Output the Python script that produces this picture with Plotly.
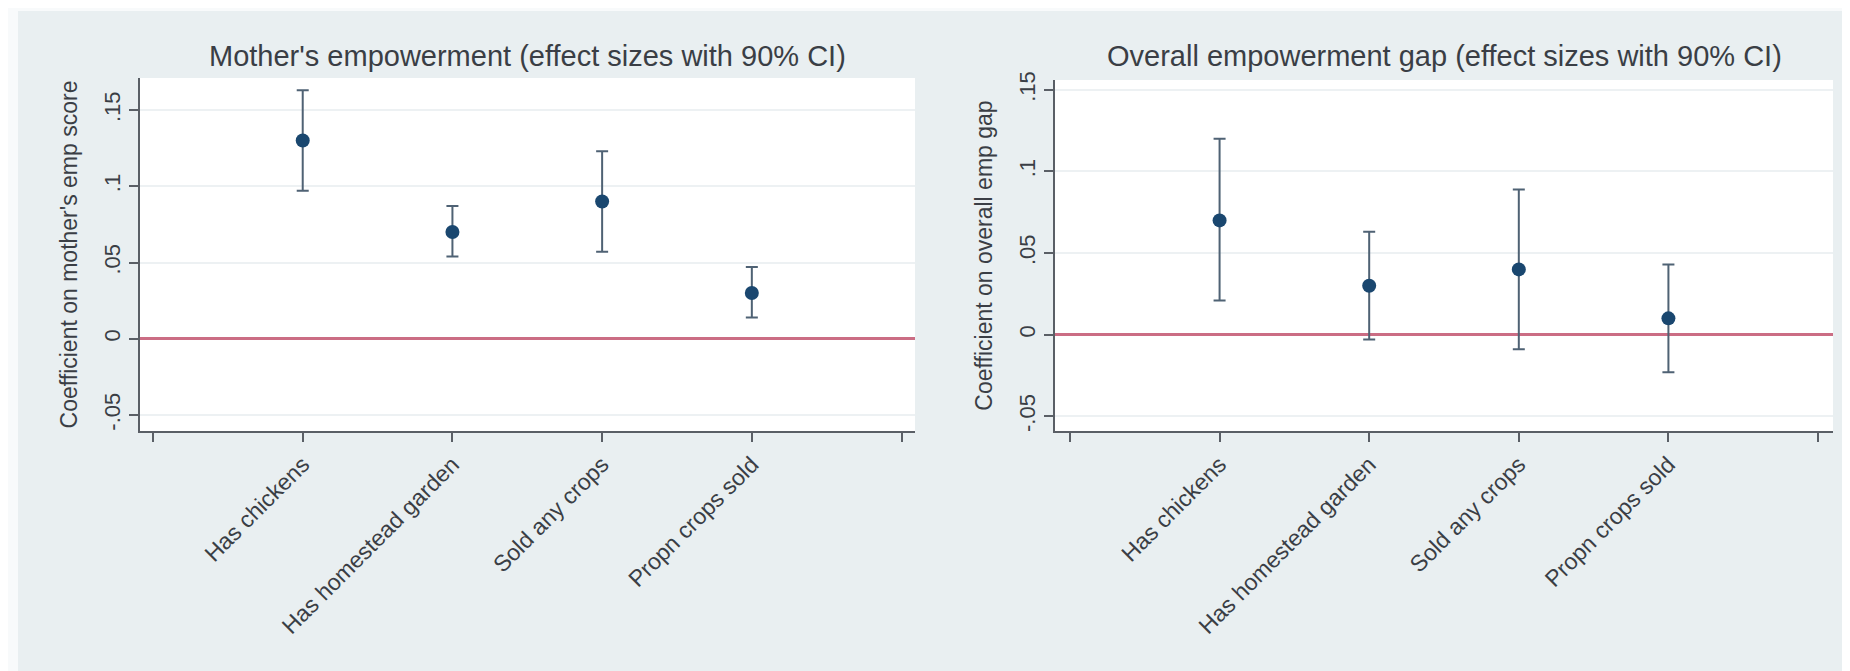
import plotly.graph_objects as go

categories = ["Has chickens", "Has homestead garden", "Sold any crops", "Propn crops sold"]
cat_pos = [1, 2, 3, 4]

# Left panel: mother's empowerment
mother_coef = [0.130, 0.070, 0.090, 0.030]
mother_lo = [0.097, 0.054, 0.057, 0.014]
mother_hi = [0.163, 0.087, 0.123, 0.047]

# Right panel: overall empowerment gap
gap_coef = [0.070, 0.030, 0.040, 0.010]
gap_lo = [0.021, -0.003, -0.009, -0.023]
gap_hi = [0.120, 0.063, 0.089, 0.043]

ytick_vals = [-0.05, 0, 0.05, 0.1, 0.15]
ytick_text = ["-.05", "0", ".05", ".1", ".15"]
xtick_vals = [0, 1, 2, 3, 4, 5]
xtick_text = [""] + categories + [""]

titles = ["Mother's empowerment (effect sizes with 90% CI)",
          "Overall empowerment gap (effect sizes with 90% CI)"]
ytitles = ["Coefficient on mother's emp score", "Coefficient on overall emp gap"]

W, H = 1850, 671
FONT = "Liberation Sans, Arial, Helvetica, sans-serif"
NAVY = "#1a476f"
BAR = "#4f6274"
AX = "#5a5f66"
TXT = "#3a3e45"
GRID = "#edf1f3"
RED = "#cb6d84"
BG = "#e9eff1"
EDGE = "#f8fafb"

def px_x(p):
    return p / W

def px_y(p):
    return 1 - p / H

fig = go.Figure()

panels = [
    (mother_coef, mother_lo, mother_hi, "x", "y"),
    (gap_coef, gap_lo, gap_hi, "x2", "y2"),
]
for coef, lo, hi, xa, ya in panels:
    fig.add_trace(go.Scatter(
        x=cat_pos, y=coef, mode="markers", xaxis=xa, yaxis=ya,
        marker=dict(color=NAVY, size=14, symbol="circle"),
        error_y=dict(type="data", symmetric=False,
                     array=[h - c for h, c in zip(hi, coef)],
                     arrayminus=[c - l for c, l in zip(coef, lo)],
                     color=BAR, thickness=2, width=6),
        showlegend=False, hoverinfo="skip"))

common_x = dict(tickvals=xtick_vals, ticktext=xtick_text, tickangle=-45,
                ticks="outside", ticklen=9, tickwidth=1.5, tickcolor=AX,
                showline=True, linecolor=AX, linewidth=2, showgrid=False,
                zeroline=False, automargin=False,
                tickfont=dict(family=FONT, size=23, color=TXT))
common_y = dict(tickvals=ytick_vals, ticktext=ytick_text, tickangle=-90,
                ticks="outside", ticklen=9, tickwidth=1.5, tickcolor=AX,
                showline=True, linecolor=AX, linewidth=2, showgrid=True,
                gridcolor=GRID, gridwidth=2,
                zeroline=True, zerolinecolor=RED, zerolinewidth=3,
                automargin=False,
                tickfont=dict(family=FONT, size=22, color=TXT))

fig.update_layout(
    width=W, height=H,
    margin=dict(l=0, r=0, t=0, b=0),
    paper_bgcolor=BG,
    plot_bgcolor="white",
    xaxis=dict(common_x, domain=[px_x(132), px_x(907)], range=[-0.087, 5.09], anchor="y"),
    yaxis=dict(common_y, domain=[px_y(423), px_y(70)], range=[-0.0605, 0.171], anchor="x",
               title=dict(text=ytitles[0], font=dict(family=FONT, size=23, color=TXT), standoff=16)),
    xaxis2=dict(common_x, domain=[px_x(1047), px_x(1825)], range=[-0.1, 5.1], anchor="y2"),
    yaxis2=dict(common_y, domain=[px_y(423), px_y(72)], range=[-0.059, 0.156], anchor="x2",
                title=dict(text=ytitles[1], font=dict(family=FONT, size=23, color=TXT), standoff=16)),
    shapes=[
        # thin light outer border around the graph region
        dict(type="rect", xref="paper", yref="paper", x0=0, x1=px_x(10), y0=0, y1=1,
             fillcolor=EDGE, line=dict(width=0), layer="above"),
        dict(type="rect", xref="paper", yref="paper", x0=px_x(1842), x1=1, y0=0, y1=1,
             fillcolor=EDGE, line=dict(width=0), layer="above"),
        dict(type="rect", xref="paper", yref="paper", x0=0, x1=1, y0=px_y(3), y1=1,
             fillcolor=EDGE, line=dict(width=0), layer="above"),
        dict(type="rect", xref="paper", yref="paper", x0=0, x1=1, y0=0, y1=px_y(669),
             fillcolor=EDGE, line=dict(width=0), layer="above"),
    ],
    annotations=[
        dict(text=titles[0], xref="paper", yref="paper", x=px_x(519.5), y=px_y(48),
             xanchor="center", yanchor="middle", showarrow=False,
             font=dict(family=FONT, size=29, color=TXT)),
        dict(text=titles[1], xref="paper", yref="paper", x=px_x(1436), y=px_y(48),
             xanchor="center", yanchor="middle", showarrow=False,
             font=dict(family=FONT, size=29, color=TXT)),
    ],
)

fig.write_html("out.html")
